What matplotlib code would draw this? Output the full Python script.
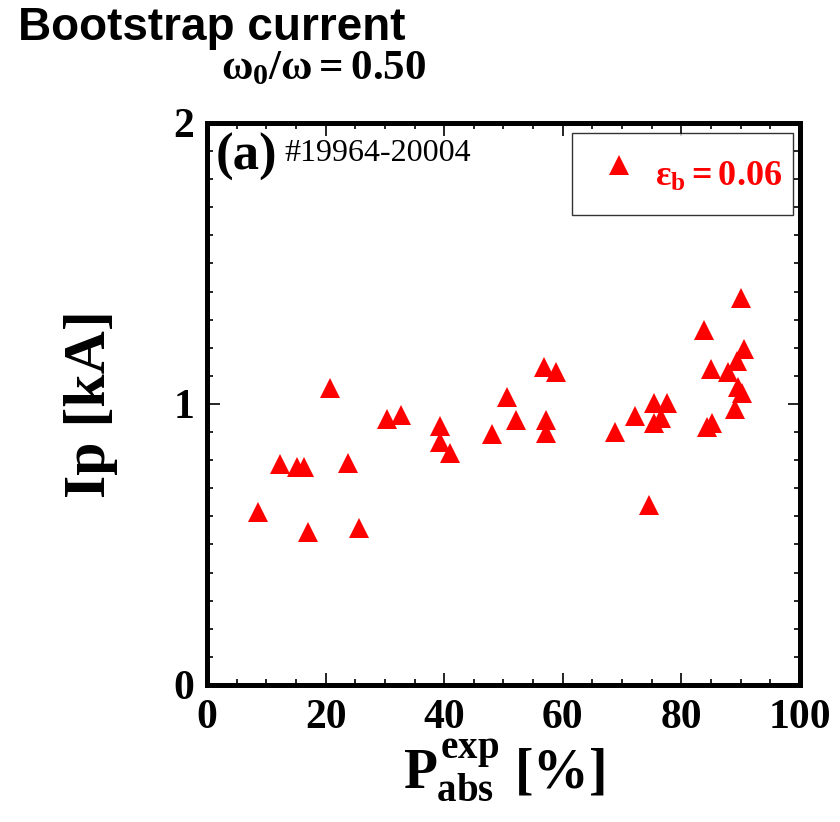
import matplotlib
matplotlib.use('Agg')
import matplotlib.pyplot as plt
from matplotlib.ticker import MultipleLocator

# P_abs^exp [%] and Ip [kA]
p_abs = [8.6, 12.3, 15.2, 16.4, 17.0, 20.7, 23.8, 25.6, 30.4, 32.7,
         39.3, 39.3, 41.0, 48.1, 50.6, 52.1, 56.8, 57.1, 57.1, 58.8,
         68.8, 72.2, 74.5, 75.4, 75.4, 76.6, 77.6, 83.8, 84.3, 85.2,
         85.0, 87.9, 89.4, 89.5, 89.0, 90.0, 90.6, 90.2]
ip_ka = [0.616, 0.786, 0.776, 0.776, 0.544, 1.057, 0.790, 0.559, 0.947, 0.961,
         0.922, 0.865, 0.826, 0.893, 1.025, 0.943, 1.132, 0.943, 0.897, 1.114,
         0.900, 0.957, 0.641, 1.004, 0.932, 0.950, 1.004, 1.263, 0.918, 0.932,
         1.125, 1.114, 1.153, 1.060, 0.982, 1.377, 1.196, 1.039]

x_ticks = [0, 20, 40, 60, 80, 100]
y_ticks = [0, 1, 2]
series_label = r'$\varepsilon_b = 0.06$'

serif = 'Liberation Serif'
plt.rcParams['mathtext.fontset'] = 'custom'
plt.rcParams['mathtext.rm'] = 'Liberation Serif:bold'
plt.rcParams['mathtext.it'] = 'Liberation Serif:bold'
plt.rcParams['mathtext.bf'] = 'Liberation Serif:bold'

fig = plt.figure(figsize=(8.4, 8.22), dpi=100)
ax = fig.add_axes([0.2464, 0.1667, 0.706, 0.6837])

ax.plot(p_abs, ip_ka, linestyle='none', marker='^', markersize=14.5,
        color='red', markeredgewidth=0, label=series_label)

ax.set_xlim(0, 100)
ax.set_ylim(0, 2)
ax.set_xticks(x_ticks)
ax.set_yticks(y_ticks)
ax.xaxis.set_minor_locator(MultipleLocator(5))
ax.yaxis.set_minor_locator(MultipleLocator(0.1))
ax.tick_params(which='both', direction='in', top=True, right=True, width=1.2)
ax.tick_params(which='major', length=9)
ax.tick_params(which='minor', length=4.5)
ax.tick_params(axis='x', which='major', pad=10)
ax.tick_params(axis='y', which='major', pad=9)
for lab in ax.get_xticklabels() + ax.get_yticklabels():
    lab.set_fontfamily(serif)
    lab.set_fontweight('bold')
    lab.set_fontsize(30)
for sp in ax.spines.values():
    sp.set_linewidth(3.6)

ax.set_xlabel(r'$P^{exp}_{abs}$ [%]', fontfamily=serif, fontweight='bold',
              fontsize=40, labelpad=0)
ax.set_ylabel('Ip [kA]', fontfamily=serif, fontweight='bold', fontsize=43,
              labelpad=40)

ax.text(0.015, 0.94, '(a)', transform=ax.transAxes, fontfamily=serif,
        fontweight='bold', fontsize=38, va='center', ha='left')
ax.text(0.13, 0.945, '#19964-20004', transform=ax.transAxes, fontfamily=serif,
        fontsize=23, va='center', ha='left')

leg = ax.legend(loc='upper right', bbox_to_anchor=(0.988, 0.982), frameon=True,
                fancybox=False, edgecolor='black', fontsize=26,
                borderpad=0.3, handletextpad=0.0, handlelength=2.0,
                handleheight=2.2, borderaxespad=0)
leg.get_frame().set_linewidth(1.0)
for t in leg.get_texts():
    t.set_color('red')
    t.set_fontfamily(serif)
    t.set_fontweight('bold')

fig.text(0.021, 0.951, 'Bootstrap current', fontfamily='Liberation Sans',
         fontweight='bold', fontsize=33, ha='left', va='baseline')
fig.text(0.385, 0.903, r'$\omega_0/\omega = 0.50$', fontsize=31,
         ha='center', va='baseline')

fig.savefig('out.png', dpi=100)
